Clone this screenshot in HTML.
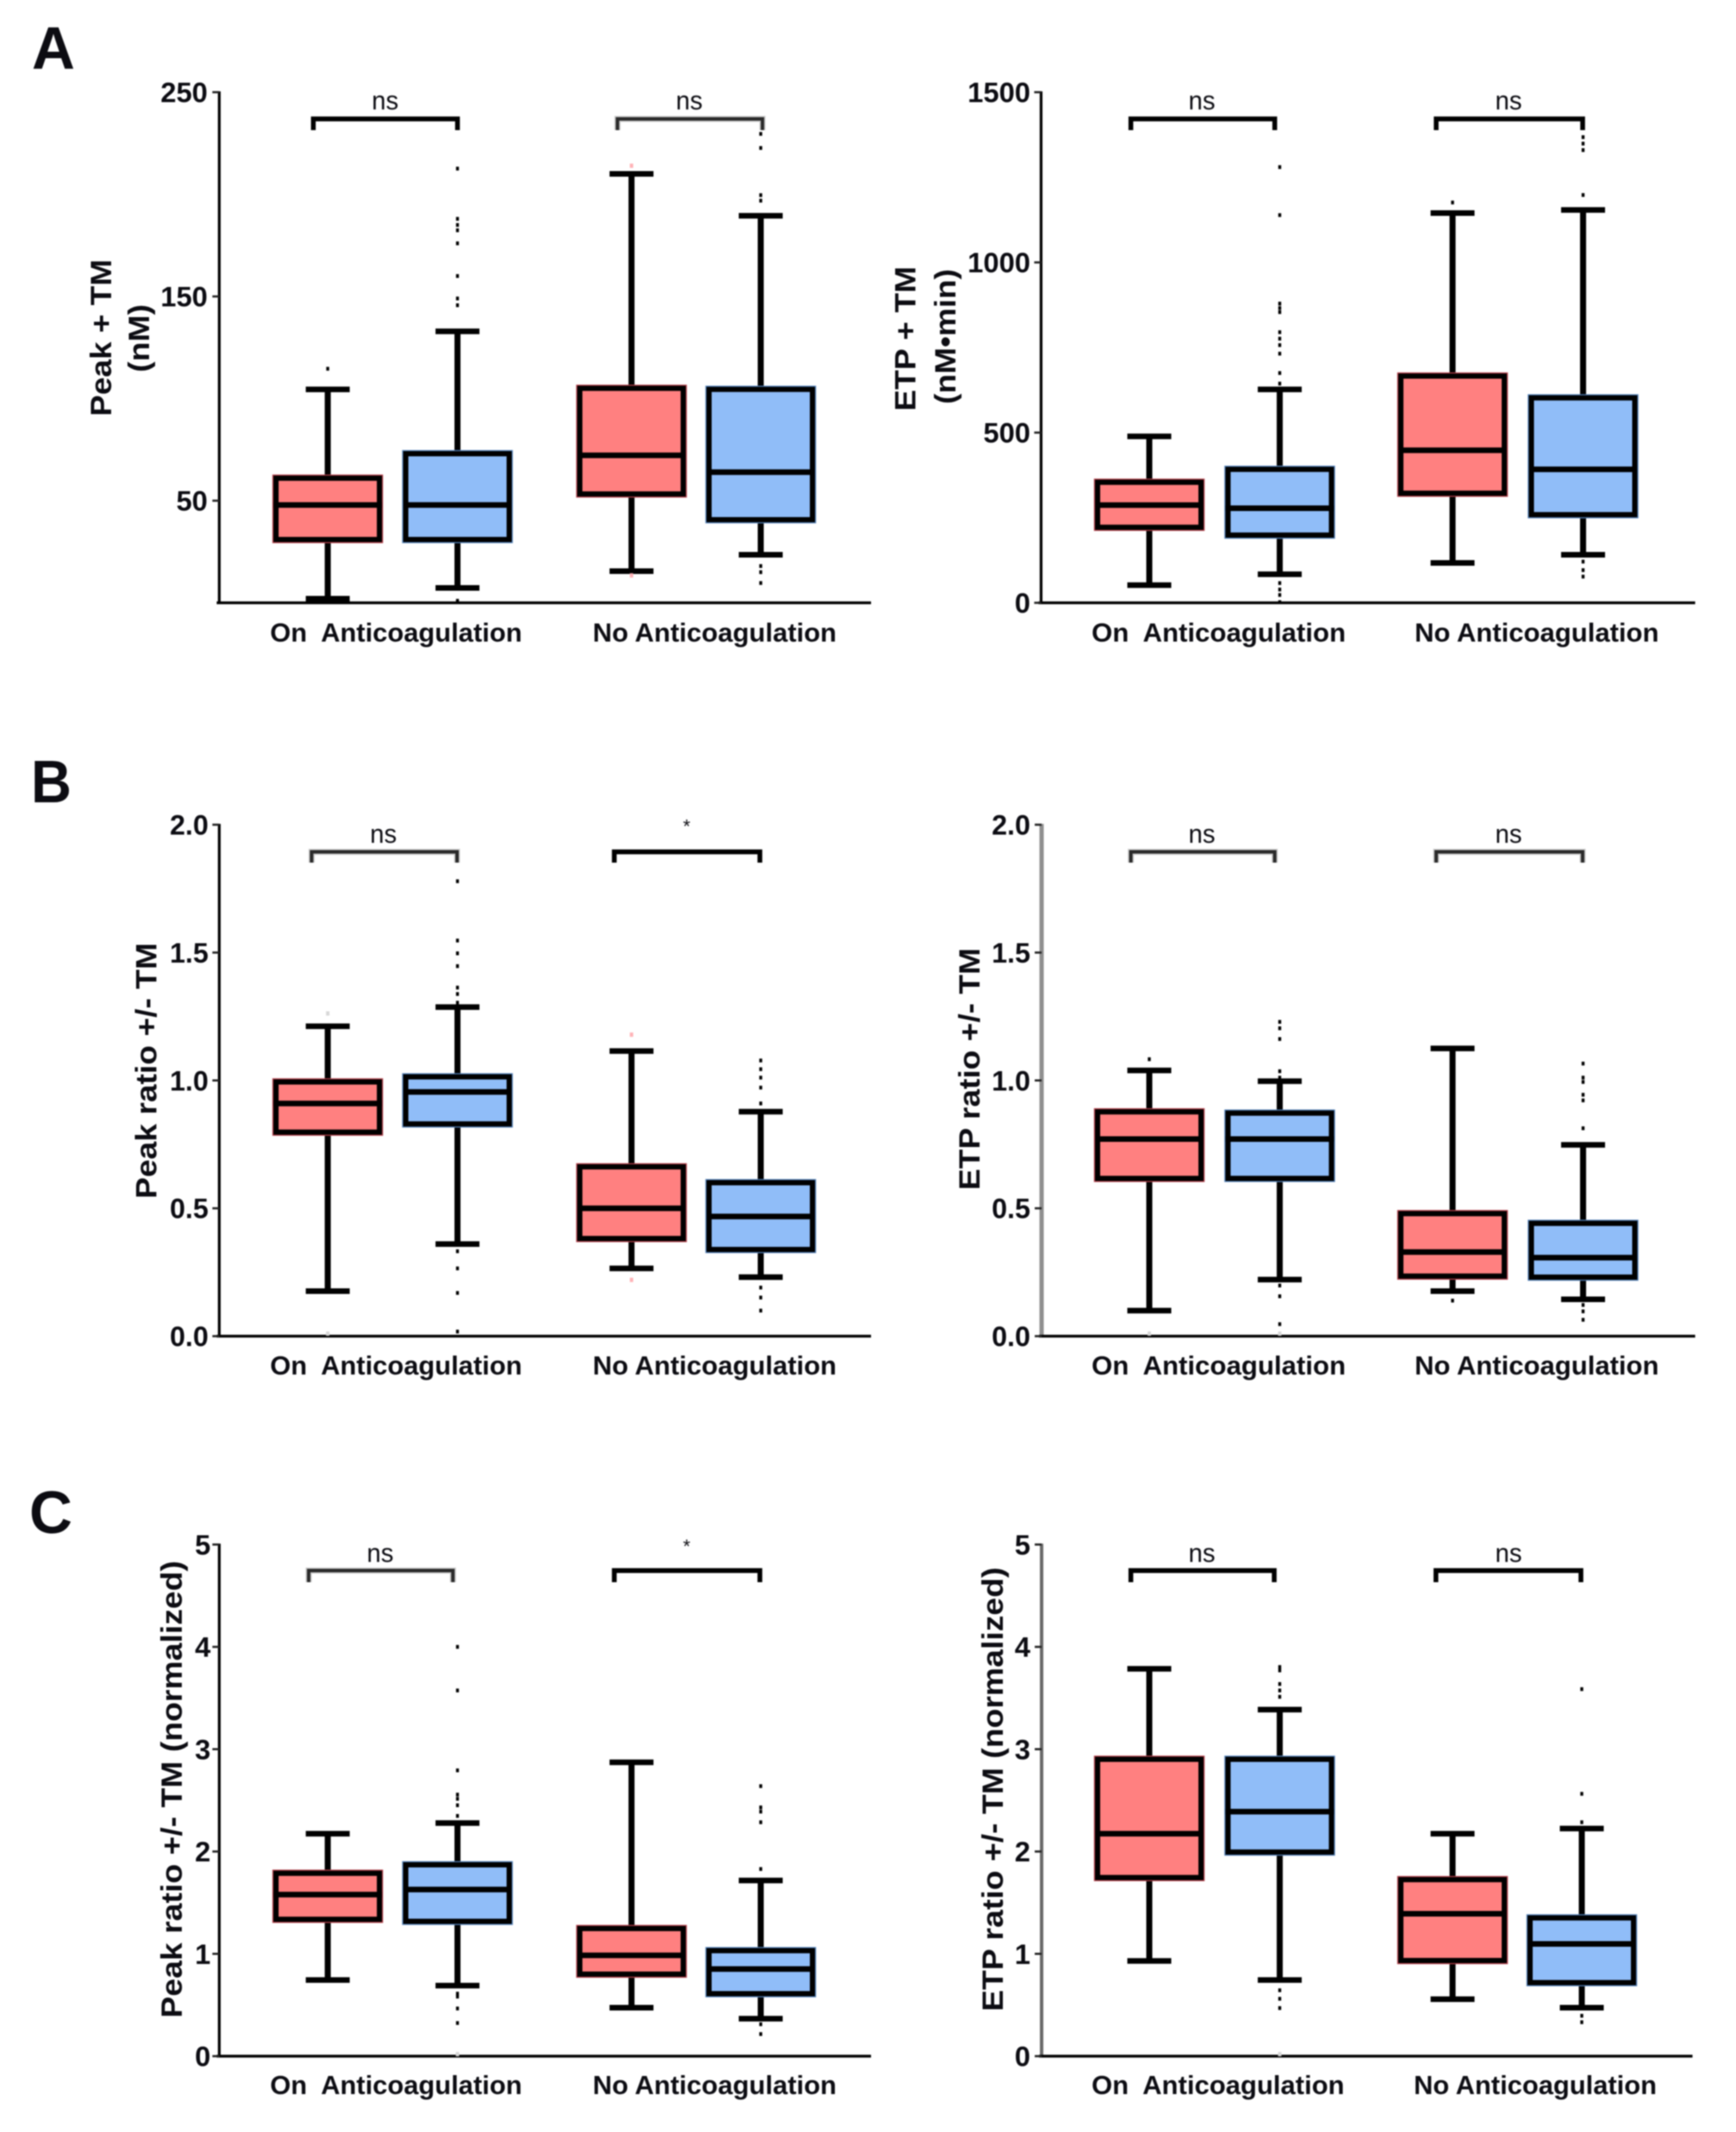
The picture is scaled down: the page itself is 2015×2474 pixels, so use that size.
<!DOCTYPE html>
<html lang="en">
<head>
<meta charset="utf-8">
<title>Thrombin generation box plots</title>
<style>
html,body{margin:0;padding:0;background:#fff;width:2015px;height:2474px;overflow:hidden}
svg{display:block;filter:blur(0.75px)}
text{font-family:"Liberation Sans",Arial,sans-serif;fill:#0c0c12;white-space:pre}
</style>
</head>
<body>
<svg id="figure" width="2015" height="2474" viewBox="0 0 2015 2474" xmlns="http://www.w3.org/2000/svg"></svg>
<script>
/* ---------- data ---------- */
const categories = ["On  Anticoagulation", "No Anticoagulation"];
const seriesNames = ["on-tm", "on-control", "no-tm", "no-control"];

/* each box: [whisker low, q1, median, q3, whisker high] */
const peakTmStats = [[2, 31, 47.9, 61, 104.5], [7.3, 31, 47.9, 73, 132.9], [15.5, 53.3, 72.2, 105, 210], [23.5, 40.7, 64, 104.5, 189.5]];
const peakTmOutliers = [[114.6], [212.6, 188, 185, 182.4, 176, 160, 149, 145.7, 1, 0], [], [229.6, 222.7, 199.6, 196.9, 18, 15, 9.7]];
const peakTmFaint = [[], [], [214, 13.4], []];
const peakTmTicks = ["50", "150", "250"];
const peakTmMax = 250;
const peakTmSig = ["ns", "ns"];

const etpTmStats = [[52, 222, 287, 354, 489], [84, 199, 278, 392, 627], [117, 322, 448, 666, 1145], [141, 259, 392, 602, 1154]];
const etpTmOutliers = [[], [1280, 1139, 879, 866, 854, 795, 776, 757, 732, 675, 644, 58, 39, 23, 0], [1176], [1368, 1349, 1330, 1198, 121, 96, 77]];
const etpTmFaint = [[], [], [], []];
const etpTmTicks = ["0", "500", "1000", "1500"];
const etpTmMax = 1500;
const etpTmSig = ["ns", "ns"];

const peakRatioStats = [[0.176, 0.798, 0.91, 0.994, 1.212], [0.36, 0.83, 0.955, 1.014, 1.287], [0.265, 0.382, 0.5, 0.662, 1.115], [0.231, 0.339, 0.468, 0.6, 0.878]];
const peakRatioOutliers = [[], [1.779, 1.547, 1.497, 1.447, 1.363, 1.338, 1.304, 0.332, 0.265, 0.169, 0.018], [], [1.078, 1.044, 1.011, 0.972, 0.91, 0.19, 0.151, 0.1]];
const peakRatioFaint = [[1.262, 0.01], [], [1.179, 0.22], []];
const peakRatioTicks = ["0.0", "0.5", "1.0", "1.5", "2.0"];
const peakRatioMax = 2;
const peakRatioSig = ["ns", "*"];

const etpRatioStats = [[0.1, 0.617, 0.771, 0.877, 1.039], [0.221, 0.617, 0.771, 0.872, 0.997], [0.176, 0.235, 0.329, 0.479, 1.125], [0.144, 0.231, 0.307, 0.441, 0.748]];
const etpRatioOutliers = [[1.083], [1.229, 1.204, 1.162, 1.036, 1.011, 0.198, 0.156, 0.047], [0.139], [1.066, 1.011, 0.994, 0.944, 0.922, 0.813, 0.122, 0.097, 0.064]];
const etpRatioFaint = [[0.01], [0.01], [], []];
const etpRatioTicks = ["0.0", "0.5", "1.0", "1.5", "2.0"];
const etpRatioMax = 2;
const etpRatioSig = ["ns", "ns"];

const peakNormStats = [[0.744, 1.338, 1.579, 1.787, 2.174], [0.69, 1.318, 1.629, 1.87, 2.278], [0.474, 0.802, 0.985, 1.247, 2.872], [0.366, 0.611, 0.852, 1.031, 1.717]];
const peakNormOutliers = [[], [4.0, 3.574, 2.793, 2.556, 2.515, 2.452, 2.348, 0.611, 0.582, 0.466, 0.324], [], [2.639, 2.431, 2.39, 2.286, 1.829, 0.312, 0.216]];
const peakNormFaint = [[], [0.02], [], []];
const peakNormTicks = ["0", "1", "2", "3", "4", "5"];
const peakNormMax = 5;
const peakNormSig = ["ns", "*"];

const etpNormStats = [[0.931, 1.746, 2.174, 2.901, 3.786], [0.744, 1.995, 2.39, 2.901, 3.387], [0.557, 0.935, 1.392, 1.725, 2.174], [0.474, 0.719, 1.097, 1.351, 2.224]];
const etpNormOutliers = [[], [3.803, 3.77, 3.637, 3.574, 3.512, 0.644, 0.561, 0.47], [], [3.587, 2.564, 2.286, 0.395, 0.332]];
const etpNormFaint = [[], [0.02], [], []];
const etpNormTicks = ["0", "1", "2", "3", "4", "5"];
const etpNormMax = 5;
const etpNormSig = ["ns", "ns"];

/* ---------- drawing ---------- */
const SVGNS = "http://www.w3.org/2000/svg";
const root = document.getElementById("figure");
const RED = "#ff8080", BLUE = "#90bdf8", RED_EDGE = "#b23c46", BLUE_EDGE = "#4f7fb8";

function mk(parent, tag, attrs, content) {
  const el = document.createElementNS(SVGNS, tag);
  for (const k in attrs) el.setAttribute(k, attrs[k]);
  if (content !== undefined) el.textContent = content;
  parent.appendChild(el);
  return el;
}

function labelWidth(s) {
  let w = 0;
  for (const c of s) w += c === "." ? 8.5 : 18.2;
  return w;
}

function drawChart(cfg) {
  const g = mk(root, "g", {});
  
  

  const yScale = v => cfg.yBottom - (v / cfg.max) * (cfg.yBottom - cfg.yTop);

  /* axes */
  const yAxis = mk(g, "line", { x1: cfg.axisX, x2: cfg.axisX, y1: cfg.yTop - 1, y2: cfg.yBottom + 1.5, stroke: cfg.axisColor, "stroke-width": cfg.axisWidth });
  
  
  const xAxis = mk(g, "line", { x1: cfg.axisX - 3, x2: cfg.axisEnd, y1: cfg.yBottom, y2: cfg.yBottom, stroke: "#000", "stroke-width": 3.2 });
  
  

  /* ticks */
  cfg.ticks.forEach(t => {
    const y = yScale(parseFloat(t));
    const tick = mk(g, "line", { x1: cfg.axisX - 8, x2: cfg.axisX, y1: y, y2: y, stroke: "#222", "stroke-width": 2.5 });
    
    
    const w = labelWidth(t);
    const lab = mk(g, "text", { x: cfg.tickRight - w, y: y + 11.5, "font-size": 32, "font-weight": "bold", textLength: w, lengthAdjust: "spacingAndGlyphs" }, t);
    
    
  });

  /* y titles */
  cfg.titles.forEach(t => {
    const cy = (t.y0 + t.y1) / 2;
    const title = mk(g, "text", { transform: "translate(" + (t.x + 12) + "," + cy + ") rotate(-90)", "text-anchor": "middle", "font-size": 34, "font-weight": "bold", textLength: t.y1 - t.y0, lengthAdjust: "spacingAndGlyphs" }, t.text);
    
    
  });

  /* boxes */
  cfg.stats.forEach((s, i) => {
    const cx = cfg.centers[i];
    const fill = i % 2 === 0 ? RED : BLUE;
    const edge = i % 2 === 0 ? RED_EDGE : BLUE_EDGE;
    const bg = mk(g, "g", {});
    
    

    const [low, q1, med, q3, high] = s;
    const whisker = mk(bg, "line", { x1: cx, x2: cx, y1: yScale(high), y2: yScale(low), stroke: "#000", "stroke-width": 7 });
    
    
    [high, low].forEach(v => {
      const cap = mk(bg, "line", { x1: cx - 25.5, x2: cx + 25.5, y1: yScale(v), y2: yScale(v), stroke: "#000", "stroke-width": 6.5 });
      
      
    });
    const halo = mk(bg, "rect", { x: cx - 60, y: yScale(q3), width: 120, height: yScale(q1) - yScale(q3), fill: fill, stroke: edge, "stroke-width": 8.5 });
    
    
    const box = mk(bg, "rect", { x: cx - 60, y: yScale(q3), width: 120, height: yScale(q1) - yScale(q3), fill: fill, stroke: "#000", "stroke-width": 6 });
    
    
    const median = mk(bg, "line", { x1: cx - 63, x2: cx + 63, y1: yScale(med), y2: yScale(med), stroke: "#000", "stroke-width": 6.5 });
    
    

    cfg.outliers[i].forEach(v => {
      const p = mk(bg, "rect", { x: cx - 1.7, y: Math.min(yScale(v) - 2.2, cfg.yBottom - 3), width: 3.4, height: 4.4, fill: "#000" });
      
      
    });
    cfg.faint[i].forEach(v => {
      const p = mk(bg, "rect", { x: cx - 2, y: yScale(v) - 2.5, width: 4, height: 5, fill: i === 2 ? "#ffb4b8" : "#d8d8d8" });
      
      
    });
  });

  /* significance brackets */
  cfg.brackets.forEach((b, i) => {
    const d = "M" + b.x0 + " " + cfg.brLeg + "V" + cfg.brY + "H" + b.x1 + "V" + cfg.brLeg;
    const shade = mk(g, "path", { d: d, fill: "none", stroke: "#c8c8c8", "stroke-width": b.light ? 7 : 6 });
    
    
    const br = mk(g, "path", { d: d, fill: "none", stroke: b.light ? "#2a2a2a" : "#000", "stroke-width": b.light ? 4 : 5.4 });
    
    
    const mark = cfg.sig[i];
    const isStar = mark === "*";
    const sigEl = mk(g, "text", isStar
      ? { x: b.tx, y: cfg.starY + 8, "text-anchor": "middle", "font-size": 22 }
      : { x: b.tx - 15.5, y: cfg.nsY + 10, "font-size": 31, textLength: 31, lengthAdjust: "spacingAndGlyphs" }, mark);
    
    
  });

  /* category labels */
  categories.forEach((c, i) => {
    const span = cfg.catSpans[i];
    const lab = mk(g, "text", { x: span[0], y: cfg.catY + 11, "font-size": 31, "font-weight": "bold", textLength: span[1] - span[0], lengthAdjust: "spacingAndGlyphs" }, c);
    
    
  });
}

const leftCenters = [380.4, 531, 733, 883];
const rightCenters = [1334, 1485.4, 1686, 1837.5];
const leftCats = [[313.5, 606], [688, 971]];
const rightCats = [[1267, 1562], [1642, 1925.5]];

const rows = {
  A: { yTop: 107, yBottom: 699.5, brY: 138, brLeg: 151, nsY: 117, starY: 117, catY: 733.7 },
  B: { yTop: 957, yBottom: 1550.5, brY: 988.5, brLeg: 1001, nsY: 968, starY: 958.5, catY: 1584 },
  C: { yTop: 1792.3, yBottom: 2386, brY: 1822.5, brLeg: 1836, nsY: 1802.7, starY: 1793.8, catY: 2419 }
};

drawChart(Object.assign({}, rows.A, {
  axisX: 254.5, axisEnd: 1011, axisColor: "#000", axisWidth: 3.2, tickRight: 241, centers: leftCenters, catSpans: leftCats,
  stats: peakTmStats, outliers: peakTmOutliers, faint: peakTmFaint, ticks: peakTmTicks, max: peakTmMax, sig: peakTmSig,
  titles: [{ text: "Peak + TM", x: 117, y0: 301, y1: 483 }, { text: "(nM)", x: 161, y0: 353, y1: 432 }],
  brackets: [{ x0: 363.7, x1: 531, tx: 447 }, { x0: 716.7, x1: 885, tx: 800, light: true }]
}));

drawChart(Object.assign({}, rows.A, {
  axisX: 1208.4, axisEnd: 1967.6, axisColor: "#000", axisWidth: 3.2, tickRight: 1196, centers: rightCenters, catSpans: rightCats,
  stats: etpTmStats, outliers: etpTmOutliers, faint: etpTmFaint, ticks: etpTmTicks, max: etpTmMax, sig: etpTmSig,
  titles: [{ text: "ETP + TM", x: 1050.5, y0: 309, y1: 477 }, { text: "(nM\u2022min)", x: 1097, y0: 312, y1: 469 }],
  brackets: [{ x0: 1312.6, x1: 1479.6, tx: 1395 }, { x0: 1667, x1: 1837, tx: 1751 }]
}));

drawChart(Object.assign({}, rows.B, {
  axisX: 254.5, axisEnd: 1011, axisColor: "#000", axisWidth: 3.2, tickRight: 242, centers: leftCenters, catSpans: leftCats,
  stats: peakRatioStats, outliers: peakRatioOutliers, faint: peakRatioFaint, ticks: peakRatioTicks, max: peakRatioMax, sig: peakRatioSig,
  titles: [{ text: "Peak ratio +/- TM", x: 169.5, y0: 1094, y1: 1391 }],
  brackets: [{ x0: 361.7, x1: 530.5, tx: 445, light: true }, { x0: 713, x1: 882, tx: 797 }]
}));

drawChart(Object.assign({}, rows.B, {
  axisX: 1209, axisEnd: 1967.6, axisColor: "#8f8f8f", axisWidth: 5, tickRight: 1196, centers: rightCenters, catSpans: rightCats,
  stats: etpRatioStats, outliers: etpRatioOutliers, faint: etpRatioFaint, ticks: etpRatioTicks, max: etpRatioMax, sig: etpRatioSig,
  titles: [{ text: "ETP ratio +/- TM", x: 1125, y0: 1100, y1: 1381 }],
  brackets: [{ x0: 1312.6, x1: 1479.6, tx: 1395, light: true }, { x0: 1667, x1: 1837, tx: 1751, light: true }]
}));

drawChart(Object.assign({}, rows.C, {
  axisX: 254.5, axisEnd: 1011, axisColor: "#000", axisWidth: 3.2, tickRight: 244.5, centers: leftCenters, catSpans: leftCats,
  stats: peakNormStats, outliers: peakNormOutliers, faint: peakNormFaint, ticks: peakNormTicks, max: peakNormMax, sig: peakNormSig,
  titles: [{ text: "Peak ratio +/- TM (normalized)", x: 199, y0: 1811, y1: 2341.6 }],
  brackets: [{ x0: 358.3, x1: 525.7, tx: 441.3, light: true }, { x0: 713, x1: 882, tx: 797 }]
}));

drawChart(Object.assign({}, rows.C, {
  axisX: 1209, axisEnd: 1964.5, axisColor: "#6a6a6a", axisWidth: 4, tickRight: 1196, centers: [1334, 1485.4, 1686, 1836], catSpans: [[1267, 1560.5], [1641, 1923]],
  stats: etpNormStats, outliers: etpNormOutliers, faint: etpNormFaint, ticks: etpNormTicks, max: etpNormMax, sig: etpNormSig,
  titles: [{ text: "ETP ratio +/- TM (normalized)", x: 1152, y0: 1818.5, y1: 2334 }],
  brackets: [{ x0: 1312.6, x1: 1479, tx: 1395 }, { x0: 1666.7, x1: 1835, tx: 1751 }]
}));
</script>
<svg style="position:absolute;left:0;top:0" width="2015" height="2474" viewBox="0 0 2015 2474" xmlns="http://www.w3.org/2000/svg">
  <text x="37" y="80" font-size="70" font-weight="bold" textLength="50" lengthAdjust="spacingAndGlyphs">A</text>
  <text x="36" y="931" font-size="70" font-weight="bold" textLength="47" lengthAdjust="spacingAndGlyphs">B</text>
  <text x="34" y="1779" font-size="70" font-weight="bold" textLength="50" lengthAdjust="spacingAndGlyphs">C</text>
</svg>
</body>
</html>
